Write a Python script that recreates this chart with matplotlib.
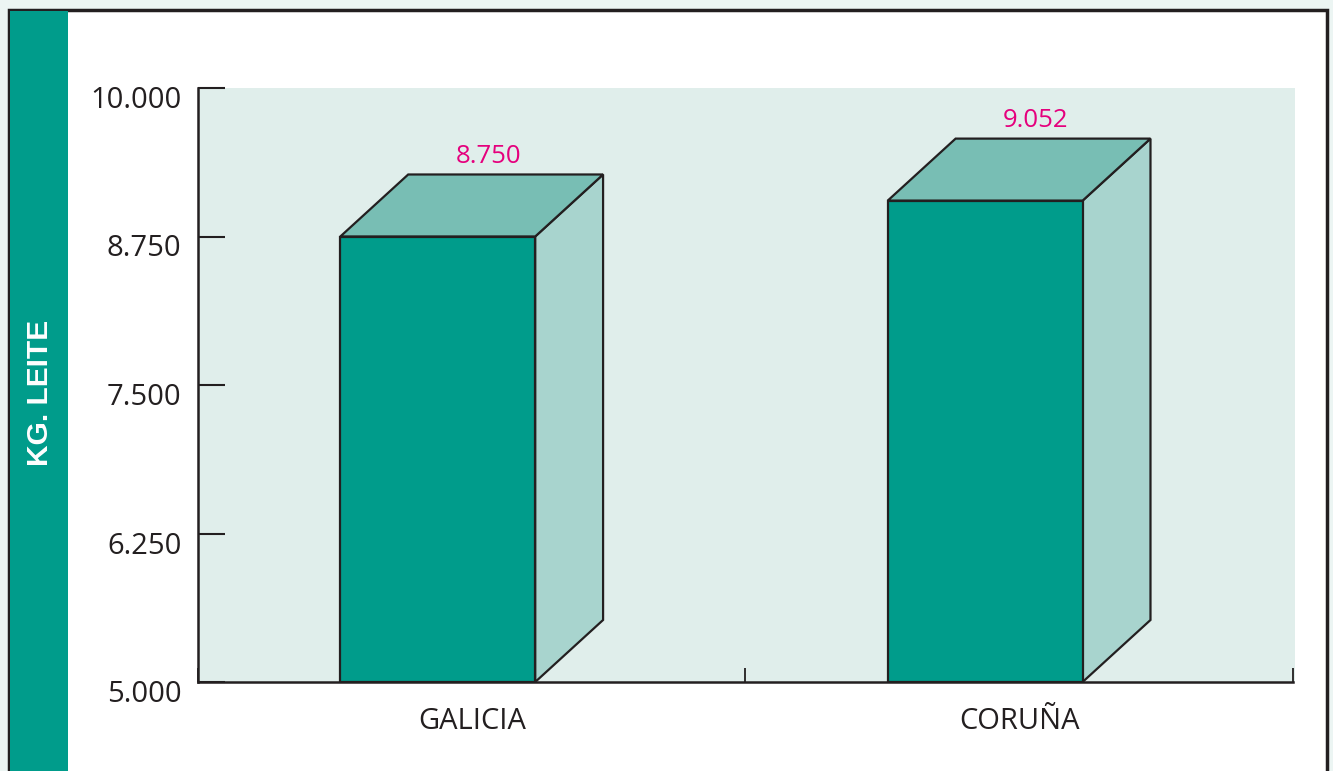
import matplotlib.pyplot as plt
import matplotlib.transforms as mtransforms
from matplotlib.patches import Polygon, Rectangle

categories = ['GALICIA', 'CORUÑA']
values = [8750, 9052]
value_labels = ['8.750', '9.052']
y_ticks = [5000, 6250, 7500, 8750, 10000]
y_tick_labels = ['5.000', '6.250', '7.500', '8.750', '10.000']
y_label = 'KG. LEITE'

front_col = '#009c8b'
top_col = '#78beb4'
side_col = '#a8d4ce'
edge_col = '#231f20'

fig = plt.figure(figsize=(13.33, 7.71), dpi=100)
fig.patch.set_facecolor('#ecf5f3')

# white card with dark border + green band on the left
fig.patches.append(Rectangle((9 / 1333, -0.05), 1318 / 1333, 1.05 - 10.5 / 771,
                             transform=fig.transFigure, facecolor='white',
                             edgecolor=edge_col, linewidth=2.5, zorder=-10))
fig.patches.append(Rectangle((10 / 1333, 0), 58 / 1333, 1 - 11 / 771,
                             transform=fig.transFigure, facecolor=front_col,
                             edgecolor='none', zorder=-9))
fig.text(40 / 1333, 1 - 393 / 771, y_label, rotation=90, color='white',
         fontsize=21.5, fontweight='bold', family='Liberation Sans',
         ha='center', va='center')

ax = fig.add_axes([198 / 1333, 1 - 682 / 771, 1097 / 1333, 594 / 771])
ax.set_zorder(1)
ax.set_facecolor('#e0eeeb')
ax.set_xlim(0, 2.004)
ax.set_ylim(5000, 10000)

# 3d bar geometry in data units
w = 0.356
dx = 0.124
dy = 522
base = 5000

for i, (v, lab) in enumerate(zip(values, value_labels)):
    c = i + 0.5
    x0 = c - (w + dx) / 2
    x1 = x0 + w
    front = Polygon([(x0, base), (x1, base), (x1, v), (x0, v)], closed=True,
                    facecolor=front_col, edgecolor=edge_col, linewidth=1.6, zorder=3)
    top = Polygon([(x0, v), (x1, v), (x1 + dx, v + dy), (x0 + dx, v + dy)], closed=True,
                  facecolor=top_col, edgecolor=edge_col, linewidth=1.6, zorder=3)
    side = Polygon([(x1, base), (x1 + dx, base + dy), (x1 + dx, v + dy), (x1, v)], closed=True,
                   facecolor=side_col, edgecolor=edge_col, linewidth=1.6, zorder=3)
    for p in (side, top, front):
        ax.add_patch(p)
    ax.text(c + 0.03, v + dy + 150, lab, color='#e5007d', fontsize=18.5,
            family='Open Sans', ha='center', va='center', zorder=4)

for s in ('top', 'right'):
    ax.spines[s].set_visible(False)
ax.spines['left'].set_linewidth(1.8)
ax.spines['bottom'].set_linewidth(1.8)
ax.spines['left'].set_color(edge_col)
ax.spines['bottom'].set_color(edge_col)
ax.spines['bottom'].set_bounds(0, 2)
ax.spines['bottom'].set_zorder(5)

ax.set_yticks(y_ticks)
ax.set_yticklabels(y_tick_labels, family='Open Sans', fontsize=21, color=edge_col)
ax.tick_params(axis='y', direction='in', length=19.5, width=1.5, pad=12, color=edge_col)
# labels sit a bit below their ticks in the original
shift = mtransforms.ScaledTranslation(0, -9 / 100, fig.dpi_scale_trans)
for t in ax.get_yticklabels():
    t.set_transform(t.get_transform() + shift)

ax.set_xticks([0, 1, 2])
ax.set_xticklabels([])
ax.tick_params(axis='x', which='major', direction='in', length=10, width=1.3, color=edge_col)
ax.set_xticks([0.5, 1.5], minor=True)
ax.set_xticklabels(categories, minor=True, family='Open Sans', fontsize=21, color=edge_col)
ax.tick_params(axis='x', which='minor', length=0, pad=18)

fig.savefig('out.png', dpi=100, facecolor=fig.get_facecolor())
